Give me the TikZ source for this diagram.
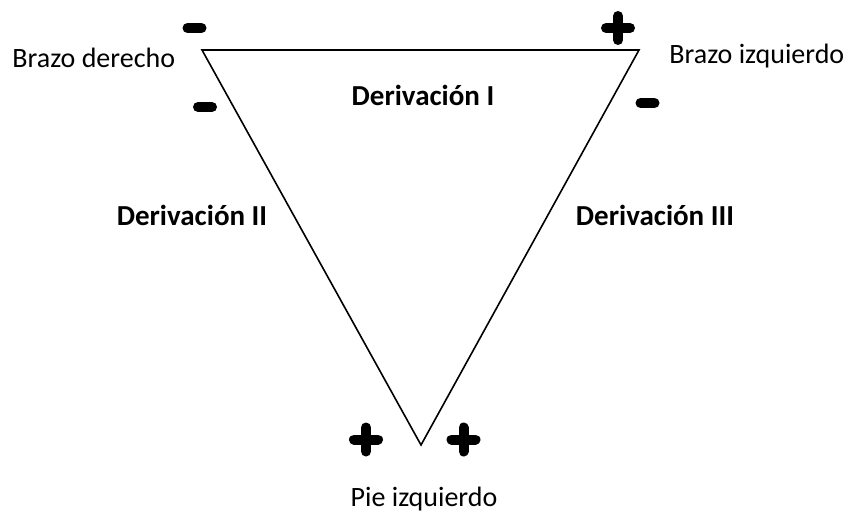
\documentclass[tikz,border=0pt]{standalone}
\usepackage{fontspec}
\setmainfont{Carlito}

\tikzset{
  etiqueta/.style={font=\fontsize{14}{17}\selectfont, inner sep=0pt, anchor=base},
  derivacion/.style={etiqueta, font=\fontsize{14.5}{17}\selectfont\bfseries},
  signo/.style={line width=5pt, line cap=round},
}

\begin{document}
\begin{tikzpicture}[x=0.5pt, y=-0.5pt]
    % --- marco (px de la imagen, y hacia abajo) ---
    \useasboundingbox (0,0) rectangle (856,514);

    % --- vértices del triángulo ---
    \coordinate (BD) at (202,50);   % brazo derecho
    \coordinate (BI) at (639,50);   % brazo izquierdo
    \coordinate (PI) at (421,445);  % pie izquierdo

    % --- 1. triángulo de Einthoven ---
    \draw[line width=0.8pt, line join=miter] (BD) -- (BI) -- (PI) -- cycle;

    % --- 2. signos ---
    \def\menos(#1,#2){\draw[signo] ({#1-7},#2) -- ({#1+7},#2);}
    \def\mas(#1,#2){\draw[signo] ({#1-12},#2) -- ({#1+12},#2)
                                 (#1,{#2-12}) -- (#1,{#2+12});}

    \menos(194.5,28)     % derivación I, brazo derecho
    \menos(205,107)      % derivación II, brazo derecho
    \mas(618,28)         % derivación I, brazo izquierdo
    \menos(647.5,103)    % derivación III, brazo izquierdo
    \mas(366,439.5)      % derivación II, pie
    \mas(463.5,439.5)    % derivación III, pie

    % --- 3. textos ---
    \node[etiqueta, anchor=base west] (brazoder) at (12,67) {Brazo derecho};
    \node[etiqueta, anchor=base west] (brazoizq) at (669,63) {Brazo izquierdo};
    \node[etiqueta] (pie) at (424,506) {Pie izquierdo};

    \node[derivacion] (derI) at (423,105) {Derivación I};
    \node[derivacion] (derII) at (192,225) {Derivación II};
    \node[derivacion] (derIII) at (655,225) {Derivación III};

\end{tikzpicture}
\end{document}
